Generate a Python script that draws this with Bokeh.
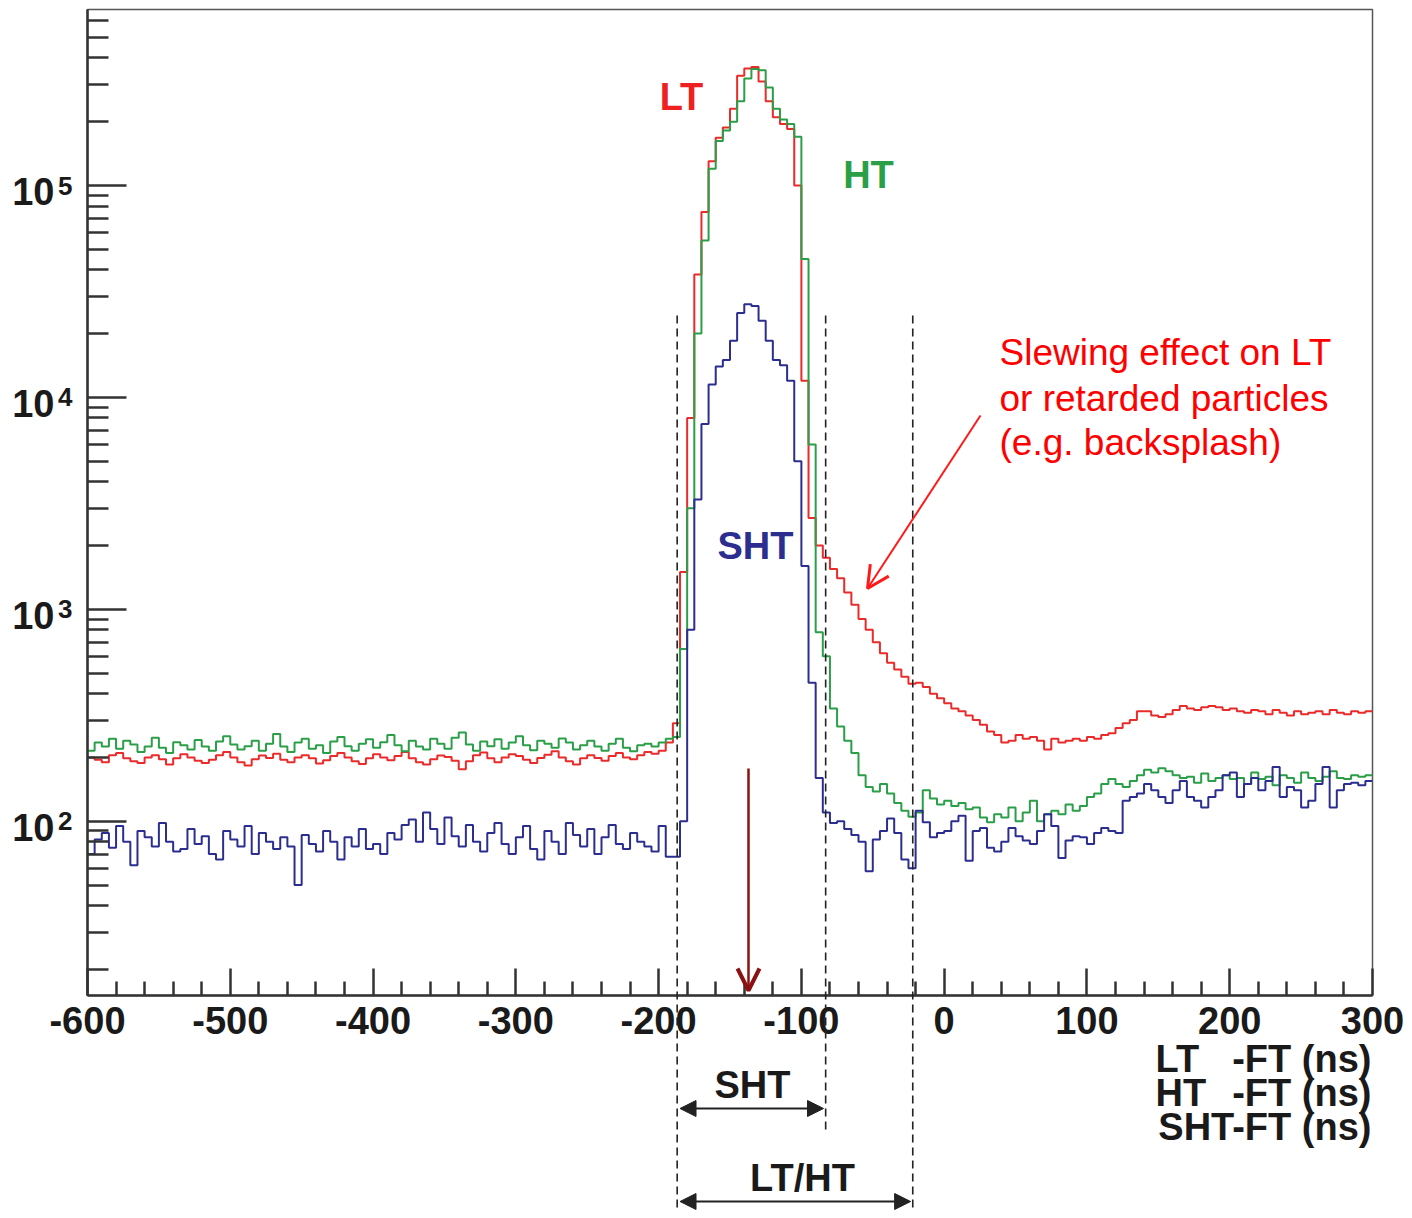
import numpy as np
from bokeh.plotting import figure
from bokeh.layouts import column
from bokeh.models import (Range1d, FixedTicker, Label, Arrow, OpenHead, NormalHead,
                          LogAxis)
from bokeh.embed import file_html
from bokeh.resources import INLINE

# ---------------- data ----------------
bin_lo, bin_hi, bin_w = -600, 300, 5
edges = list(range(bin_lo, bin_hi + 1, bin_w))          # 181 edges -> 180 bins

# flat region, bins -600 .. -195
lt_flat = [200, 195, 190, 205, 210, 198, 192, 188, 200, 205,
           196, 185, 198, 207, 200, 193, 188, 195, 205, 212,
           200, 190, 183, 196, 204, 199, 208, 195, 190, 200,
           205, 198, 187, 194, 203, 210, 200, 192, 186, 198,
           207, 200, 194, 203, 212, 198, 190, 185, 196, 204,
           201, 193, 176, 192, 205, 211, 198, 190, 200, 207,
           203, 195, 188, 199, 206, 214, 200, 192, 185, 198,
           205, 199, 193, 203, 210, 200, 196, 205, 212, 208,
           215, 235]
ht_flat = [215, 235, 225, 245, 220, 240, 230, 212, 225, 248,
           222, 210, 236, 228, 218, 242, 225, 215, 238, 252,
           230, 218, 226, 240, 215, 232, 258, 225, 212, 235,
           245, 220, 228, 210, 238, 250, 226, 215, 232, 244,
           222, 236, 255, 228, 214, 240, 225, 218, 245, 232,
           220, 248, 262, 230, 215, 238, 226, 244, 220, 235,
           252, 228, 216, 240, 232, 222, 246, 235, 218, 228,
           240, 225, 215, 232, 245, 222, 214, 228, 232, 225,
           235, 245]
sht_flat = [70, 82, 88, 75, 95, 80, 62, 90, 84, 76,
            98, 80, 72, 74, 92, 78, 85, 70, 66, 90,
            82, 76, 95, 70, 88, 80, 74, 84, 76, 50,
            86, 78, 72, 90, 80, 66, 84, 76, 92, 74,
            78, 70, 88, 82, 96, 102, 80, 110, 92, 78,
            104, 85, 76, 96, 80, 72, 88, 98, 78, 70,
            84, 95, 74, 66, 90, 80, 70, 98, 86, 76,
            92, 70, 84, 96, 78, 74, 88, 80, 76, 72,
            95, 68]

# peak and tail, bins -190 .. 295
lt_tail = [290, 1500, 8000, 38000, 75000, 130000, 168000, 188000, 230000, 330000,
           357000, 362000, 310000, 250000, 210000, 195000, 185000, 100000, 12000, 2700,
           2000, 1750, 1550, 1400, 1200, 1050, 900, 800, 700, 620,
           560, 520, 480, 445, 450, 430, 400, 380, 360, 340,
           330, 315, 300, 285, 265, 255, 235, 240, 255, 245,
           250, 240, 218, 245, 235, 240, 245, 240, 250, 245,
           255, 260, 275, 290, 300, 330, 330, 315, 310, 320,
           335, 350, 340, 335, 345, 350, 345, 335, 340, 330,
           325, 335, 330, 320, 335, 325, 315, 330, 320, 325,
           330, 320, 335, 325, 320, 330, 325, 330]
ht_tail = [250, 650, 3000, 20000, 55000, 120000, 162000, 182000, 200000, 250000,
           320000, 355000, 350000, 290000, 230000, 205000, 195000, 170000, 45000, 6000,
           780, 600, 340, 280, 240, 210, 165, 145, 138, 150,
           135, 122, 112, 105, 110, 140, 128, 120, 125, 118,
           122, 114, 116, 104, 99, 108, 104, 116, 100, 110,
           125, 100, 108, 112, 108, 120, 112, 118, 130, 135,
           150, 158, 150, 145, 155, 165, 175, 170, 178, 172,
           165, 160, 162, 152, 168, 155, 160, 165, 158, 160,
           150, 170, 158, 162, 148, 165, 160, 152, 170, 160,
           155, 162, 172, 160, 158, 165, 162, 165]
sht_tail = [68, 100, 800, 3300, 7500, 11500, 14000, 15000, 18500, 25000,
            27500, 27000, 23000, 18500, 15000, 14200, 12000, 5000, 1600, 450,
            160, 110, 98, 100, 92, 86, 80, 58, 82, 90,
            103, 88, 66, 60, 112, 99, 84, 88, 90, 100,
            106, 65, 90, 93, 75, 72, 80, 93, 85, 81,
            78, 90, 108, 95, 67, 81, 85, 84, 78, 88,
            93, 90, 88, 125, 130, 135, 150, 140, 130, 122,
            140, 155, 130, 125, 116, 130, 140, 165, 170, 130,
            150, 160, 140, 155, 180, 130, 145, 140, 116, 125,
            150, 180, 116, 140, 150, 152, 148, 155]

lt_counts = lt_flat + lt_tail
ht_counts = ht_flat + ht_tail
sht_counts = sht_flat + sht_tail
assert len(lt_counts) == len(ht_counts) == len(sht_counts) == len(edges) - 1

window_cuts = [-187, -83, -22]      # dashed timing-window boundaries (ns)

x_major = list(range(-600, 301, 100))
x_minor = [v for v in range(-600, 301, 20) if v % 100 != 0]
x_labels = {v: str(v) for v in x_major}
y_major = [1e2, 1e3, 1e4, 1e5]
y_minor = [k * 10.0 ** n for n in range(1, 6) for k in range(2, 10)]
y_exponents = ["2", "3", "4", "5"]

# ---------------- geometry ----------------
W, H = 1404, 1210
FL, FR, FT, FB = 87, 1372, 9, 995          # frame edges in canvas px
Y_LO, Y_HI = 15.05, 6.77e5
PX_PER_NS = (FR - FL) / (bin_hi - bin_lo)
DECADE_PX = (FB - FT) / (np.log10(Y_HI) - np.log10(Y_LO))

def xd(px):
    return (px - FL) / PX_PER_NS + bin_lo

def yd(py):
    return 10 ** (np.log10(Y_LO) + (FB - py) / DECADE_PX)

FONT = "Liberation Sans"
AX = "#333333"
TXT = "#1a1a1a"
RED, GREEN, BLUE = "#eb2a2a", "#2a9f48", "#2b2e8f"

# ---------------- main figure ----------------
p = figure(width=W, height=H, x_range=Range1d(bin_lo, bin_hi),
           y_range=Range1d(Y_LO, Y_HI), y_axis_type="log",
           output_backend="svg", toolbar_location=None,
           min_border_left=FL, min_border_right=W - FR, min_border_top=FT,
           min_border_bottom=H - FB)
p.xgrid.visible = False
p.ygrid.visible = False
p.outline_line_color = "#555555"
p.outline_line_width = 1.5
p.background_fill_color = "white"
p.border_fill_color = "white"

def style_ticks(ax, major_in, minor_in):
    ax.major_tick_in = major_in
    ax.major_tick_out = 0
    ax.minor_tick_in = minor_in
    ax.minor_tick_out = 0
    ax.axis_line_width = 2.5
    ax.axis_line_color = AX
    ax.major_tick_line_width = 2.5
    ax.major_tick_line_color = AX
    ax.minor_tick_line_width = 2.5
    ax.minor_tick_line_color = AX
    ax.major_label_text_font = FONT
    ax.major_label_text_font_style = "bold"
    ax.major_label_text_color = TXT

xa = p.xaxis[0]
xa.ticker = FixedTicker(ticks=x_major, minor_ticks=x_minor)
xa.major_label_overrides = x_labels
style_ticks(xa, 27, 14)
xa.major_label_standoff = 11
xa.major_label_text_font_size = "38px"

# inner y axis: ticks + exponent labels (superscripts)
ya = p.yaxis[0]
ya.ticker = FixedTicker(ticks=y_major, minor_ticks=y_minor)
style_ticks(ya, 39, 21)
ya.major_label_standoff = 15
ya.major_label_overrides = {v: e for v, e in zip(y_major, y_exponents)}
ya.major_label_text_font_size = "26px"

# outer y axis: mantissa labels "10", set slightly below the tick like ROOT does
mantissa_pos = [v * 10 ** (-6 / DECADE_PX) for v in y_major]
yb = LogAxis(ticker=FixedTicker(ticks=mantissa_pos, minor_ticks=[]))
yb.major_label_overrides = {v: "10" for v in mantissa_pos}
yb.axis_line_color = None
yb.major_tick_line_color = None
yb.minor_tick_line_color = None
yb.major_tick_in = 0
yb.major_tick_out = 0
yb.major_label_standoff = 1
yb.major_label_text_font = FONT
yb.major_label_text_font_style = "bold"
yb.major_label_text_font_size = "38px"
yb.major_label_text_color = TXT
p.add_layout(yb, "left")

for counts, col in ((lt_counts, RED), (ht_counts, GREEN), (sht_counts, BLUE)):
    p.step(edges, counts + [counts[-1]], mode="after", line_color=col, line_width=2)

# ---------------- transparent overlay for annotations ----------------
q = figure(width=W, height=H, x_range=Range1d(bin_lo, bin_hi),
           y_range=Range1d(yd(H), yd(0)), y_axis_type="log",
           x_axis_location=None, y_axis_location=None,
           output_backend="svg", toolbar_location=None,
           min_border_left=FL, min_border_right=W - FR, min_border_top=0,
           min_border_bottom=0)
q.xgrid.visible = False
q.ygrid.visible = False
q.outline_line_color = None
q.background_fill_alpha = 0
q.border_fill_alpha = 0
q.margin = (-H, 0, 0, 0)

def lab(text, px, py, color=TXT, size="38px", style="bold", align="center"):
    q.add_layout(Label(x=xd(px), y=yd(py), text=text, text_font=FONT,
                       text_font_style=style, text_font_size=size,
                       text_color=color, text_align=align, text_baseline="middle"))

# dashed window lines
line_bottoms = [H + 20, 1130, H + 20]
q.segment(x0=window_cuts, y0=[yd(315)] * 3, x1=window_cuts,
          y1=[yd(b) for b in line_bottoms], line_color="#222222",
          line_width=1.6, line_dash="8 5")

# window arrows below the axis
for x0, x1, py in ((window_cuts[0], window_cuts[1], 1108),
                   (window_cuts[0], window_cuts[2], 1201)):
    q.add_layout(Arrow(start=NormalHead(size=16, fill_color="#222222", line_color="#222222"),
                       end=NormalHead(size=16, fill_color="#222222", line_color="#222222"),
                       x_start=x0 + 2, y_start=yd(py), x_end=x1 - 1.5, y_end=yd(py),
                       line_color="#222222", line_width=2.2))

lab("SHT", 752, 1084)
lab("LT/HT", 802, 1177)

# axis title lines
lab("LT", 1155, 1058, align="left")
lab("-FT (ns)", 1371, 1058, align="right")
lab("HT", 1155, 1092, align="left")
lab("-FT (ns)", 1371, 1092, align="right")
lab("SHT-FT (ns)", 1371, 1126, align="right")

# series labels
lab("LT", 681, 96, color="#ee2020")
lab("HT", 868, 174, color=GREEN)
lab("SHT", 755, 545, color=BLUE)

# red comment
for t, py in (("Slewing effect on LT", 352), ("or retarded particles", 398),
              ("(e.g. backsplash)", 442)):
    lab(t, 999, py, color="#ff0000", size="37px", style="normal", align="left")

q.add_layout(Arrow(end=OpenHead(size=22, line_color="#ff1a1a", line_width=3),
                   x_start=xd(980), y_start=yd(415), x_end=xd(867), y_end=yd(588),
                   line_color="#ff1a1a", line_width=2))

q.add_layout(Arrow(end=OpenHead(size=22, line_color="#8b1212", line_width=4),
                   x_start=xd(748), y_start=yd(768), x_end=xd(748), y_end=yd(990),
                   line_color="#8b1212", line_width=2.5))

layout = column(p, q, spacing=0)
open("out.html", "w").write(file_html(layout, INLINE))
